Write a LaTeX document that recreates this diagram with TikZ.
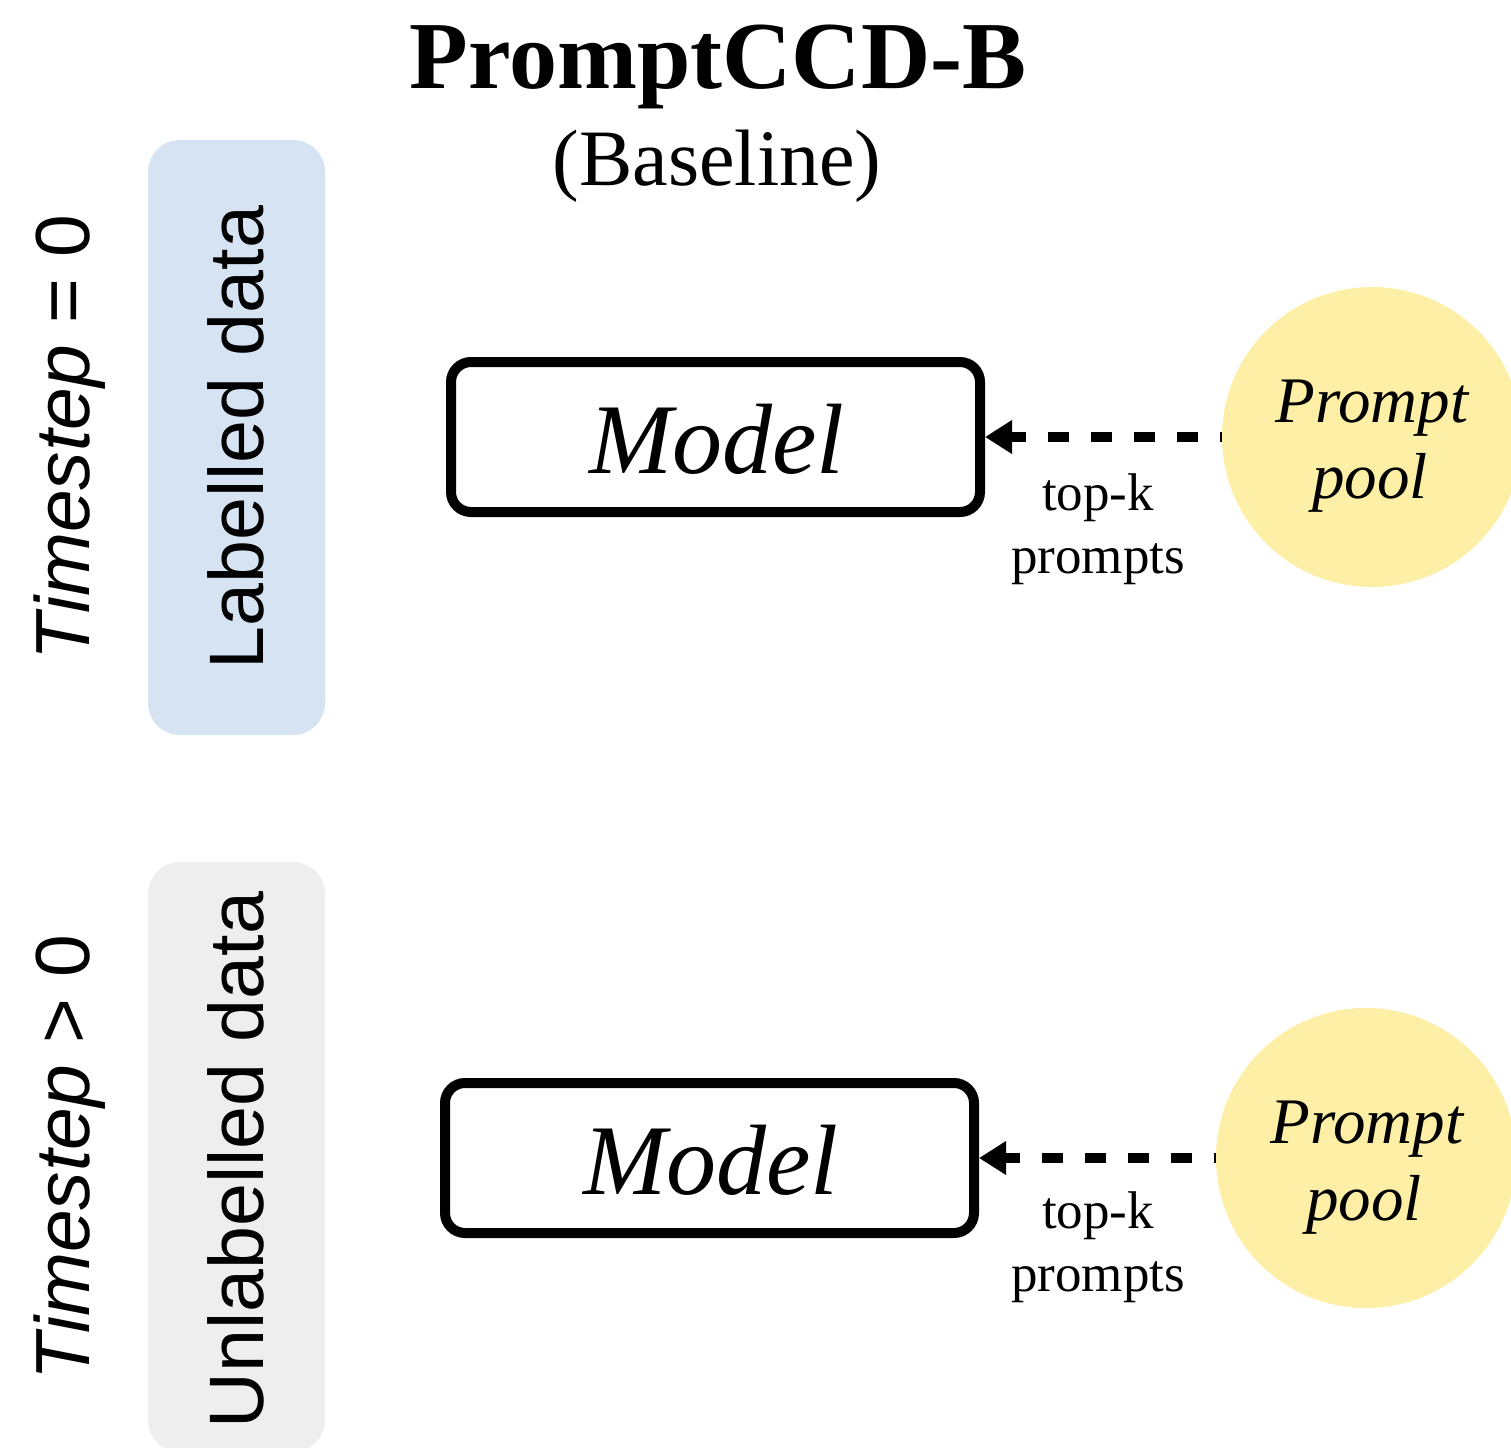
\documentclass[tikz,border=0pt]{standalone}
\usepackage{fontspec}
\setmainfont{Liberation Serif}
\setsansfont{Liberation Sans}
\usetikzlibrary{arrows.meta}

\definecolor{labblue}{HTML}{D5E3F2}
\definecolor{unlabgray}{HTML}{EEEEEE}
\definecolor{poolyellow}{HTML}{FEEFA6}

\tikzset{
  databox/.style={rounded corners=16pt, minimum width=88.5pt, inner sep=0pt, draw=none},
  datatext/.style={rotate=90, anchor=base, inner sep=0pt, font=\sffamily\fontsize{38.6}{41}\selectfont},
  steptext/.style={rotate=90, anchor=base, inner sep=0pt, font=\sffamily\fontsize{38.4}{41}\selectfont},
  modelbox/.style={draw=black, line width=5pt, rounded corners=10pt, minimum width=264.5pt, minimum height=75pt, inner sep=0pt},
  modeltext/.style={anchor=base, inner sep=0pt, font=\itshape\fontsize{50}{55}\selectfont},
  pool/.style={circle, fill=poolyellow, minimum size=150pt, inner sep=0pt},
  pooltext/.style={anchor=base, inner sep=0pt, font=\itshape\fontsize{32.5}{36}\selectfont},
  toptext/.style={anchor=base, inner sep=0pt, font=\fontsize{26.5}{29}\selectfont},
  fetch/.style={line width=5pt, dash pattern=on 10.5pt off 11pt, dash phase=9.5pt,
    -{Triangle[length=13.5pt, width=16pt]}},
}

\begin{document}
\begin{tikzpicture}[x=0.5pt, y=-0.5pt]
\useasboundingbox (0,0) rectangle (1511,1447);
\clip (0,0) rectangle (1511,1447);

% title
\node[anchor=base, inner sep=0pt, font=\bfseries\fontsize{48}{52}\selectfont] (title) at (718,88) {PromptCCD-B};
\node[anchor=base, inner sep=0pt, font=\fontsize{40}{44}\selectfont] (subtitle) at (717,185) {(Baseline)};

% data panels
\node[databox, fill=labblue, minimum height=297.5pt] (lab) at (236.5,437.5) {};
\node[databox, fill=unlabgray, minimum height=295pt] (unlab) at (236.5,1157) {};
\node[datatext] (labtxt) at (263,437.5) {Labelled data};
\node[datatext] (unlabtxt) at (263,1160) {Unlabelled data};

% timestep labels
\node[steptext] (t0) at (90,437.5) {\textit{Timestep} = 0};
\node[steptext] (t1) at (90,1157.5) {\textit{Timestep} > 0};

% upper row
\node[modelbox] (m1) at (715.5,437) {};
\node[modeltext] (m1txt) at (717,473) {Model};
\node[pool] (p1) at (1372,437) {};
\node[pooltext] (p1a) at (1372,422) {Prompt};
\node[pooltext] (p1b) at (1370,498) {pool};
\draw[fetch] (p1.west) -- (m1.east);
\node[toptext] (k1a) at (1098,510) {top-k};
\node[toptext] (k1b) at (1098,573) {prompts};

% lower row
\node[modelbox] (m2) at (709.5,1158) {};
\node[modeltext] (m2txt) at (711,1194) {Model};
\node[pool] (p2) at (1366,1158) {};
\node[pooltext] (p2a) at (1367,1143) {Prompt};
\node[pooltext] (p2b) at (1364,1220) {pool};
\draw[fetch] (p2.west) -- (m2.east);
\node[toptext] (k2a) at (1098,1228) {top-k};
\node[toptext] (k2b) at (1098,1291) {prompts};
\end{tikzpicture}
\end{document}
